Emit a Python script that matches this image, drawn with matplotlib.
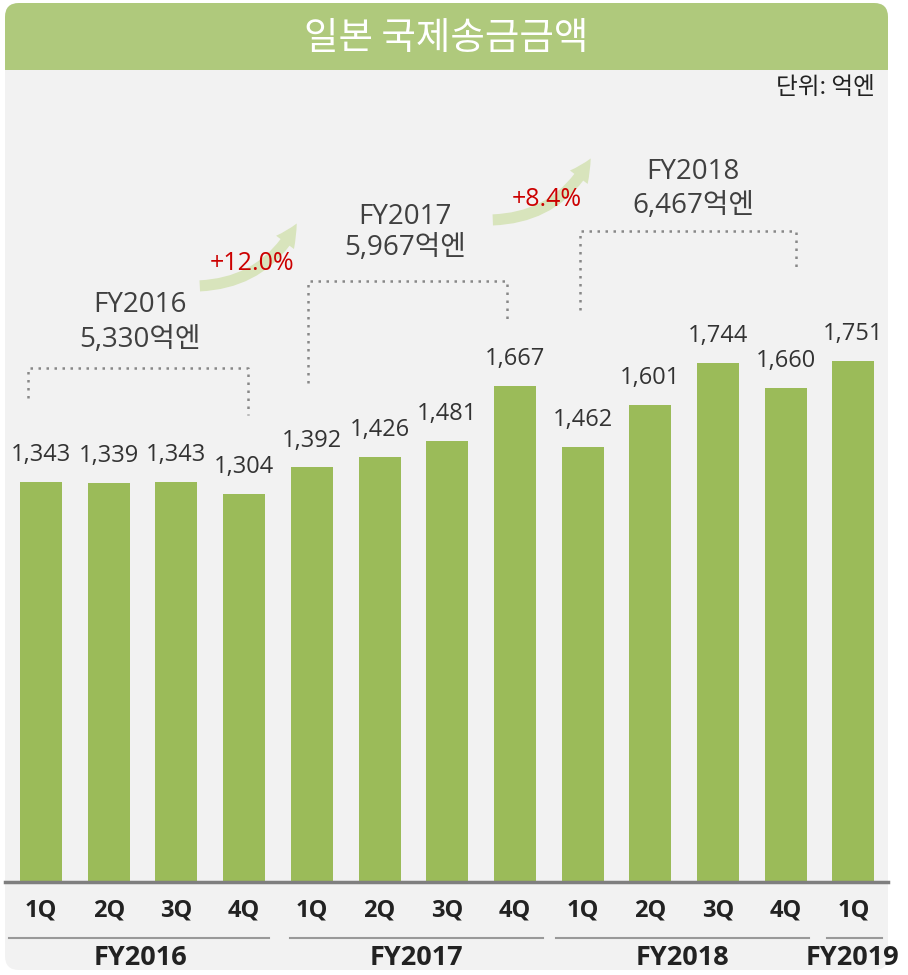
import matplotlib.pyplot as plt
from matplotlib.patches import FancyBboxPatch, Rectangle, FancyArrowPatch

plt.rcParams['font.family'] = ['Open Sans', 'Noto Sans CJK KR', 'DejaVu Sans']

# 데이터 (단위: 억엔)
quarters = ['1Q', '2Q', '3Q', '4Q', '1Q', '2Q', '3Q', '4Q', '1Q', '2Q', '3Q', '4Q', '1Q']
values = [1343, 1339, 1343, 1304, 1392, 1426, 1481, 1667, 1462, 1601, 1744, 1660, 1751]
years = ['FY2016', 'FY2017', 'FY2018', 'FY2019']
year_totals = ['5,330억엔', '5,967억엔', '6,467억엔']
growth = ['+12.0%', '+8.4%']

W, H = 908, 975
fig = plt.figure(figsize=(W / 100, H / 100), dpi=100)

# 배경 (픽셀 좌표)
bg = fig.add_axes([0, 0, 1, 1], zorder=0)
bg.set_xlim(0, W)
bg.set_ylim(H, 0)
bg.axis('off')
bg.add_patch(FancyBboxPatch((5, 3), 883, 967, boxstyle='round,pad=0,rounding_size=14',
                            fc='#f2f2f2', ec='none'))
bg.add_patch(FancyBboxPatch((5, 3), 883, 80, boxstyle='round,pad=0,rounding_size=14',
                            fc='#afc97c', ec='none'))
bg.add_patch(Rectangle((5, 70), 883, 30, fc='#f2f2f2', ec='none'))
bg.text(446, 38, '일본 국제송금금액', color='white', fontsize=27, ha='center', va='center',
        family='Noto Sans CJK KR')
bg.text(875, 88, '단위: 억엔', color='#222222', fontsize=17, ha='right', va='center',
        family='Noto Sans CJK KR')

# 막대 그래프
ax = fig.add_axes([5 / W, (H - 882) / H, 883 / W, 782 / H], zorder=1)
ax.patch.set_alpha(0)
x = list(range(len(values)))
ax.bar(x, values, width=0.62, color='#9bbb59', zorder=2)
for xi, v in zip(x, values):
    ax.text(xi, v + 50, f'{v:,}', ha='center', va='bottom', fontsize=17, color='#333333')
ax.set_xlim(-0.532, 12.51)
ax.set_ylim(0, 782 / 0.2978)
for s in ['top', 'right', 'left']:
    ax.spines[s].set_visible(False)
ax.spines['bottom'].set_color('#7f7f7f')
ax.spines['bottom'].set_linewidth(2.5)
ax.set_yticks([])
ax.set_xticks(x)
ax.set_xticklabels(quarters, fontsize=17, fontweight='bold', color='#222222')
ax.tick_params(axis='x', length=0, pad=12)

# 연도 구분선 및 라벨
groups = [(9, 269, 141), (290, 543, 416), (556, 809, 682), (827, 882, 853)]
for (x0, x1, xc), yr in zip(groups, years):
    bg.plot([x0, x1], [938, 938], color='#999999', lw=1.5)
    bg.text(xc, 958, yr, ha='center', va='center', fontsize=19.5, fontweight='bold', color='#222222')

# 연간 합계 (점선 괄호)
brackets = [(28, 248, 368, 398, 415, 140, 305, 340),
            (308, 507, 281, 383, 320, 405, 217, 248),
            (580, 796, 231, 310, 270, 693, 172, 206)]
for (x0, x1, yb, yl, yr_, xc, t1, t2), yr, tot in zip(brackets, years, year_totals):
    bg.plot([x0, x0, x1, x1], [yl, yb, yb, yr_], color='#888888', lw=1.8, ls=(0, (1, 2.2)))
    bg.text(xc, t1, yr, ha='center', va='center', fontsize=20, color='#404040')
    bg.text(xc, t2, tot, ha='center', va='center', fontsize=20, color='#404040')

# 성장률 화살표
arrows = [((197, 286), (298, 221), 252, 264), ((490, 220), (592, 156), 547, 199)]
for (p0, p1, tx, ty), g in zip(arrows, growth):
    bg.add_patch(FancyArrowPatch(p0, p1, connectionstyle='arc3,rad=0.3',
                                 arrowstyle='simple,head_width=16,head_length=16,tail_width=8',
                                 fc='#d8e4bc', ec='none', mutation_scale=1))
    bg.text(tx, ty, g, ha='center', va='center', fontsize=18, color='#cc0000')

fig.savefig('out.png', dpi=100)
